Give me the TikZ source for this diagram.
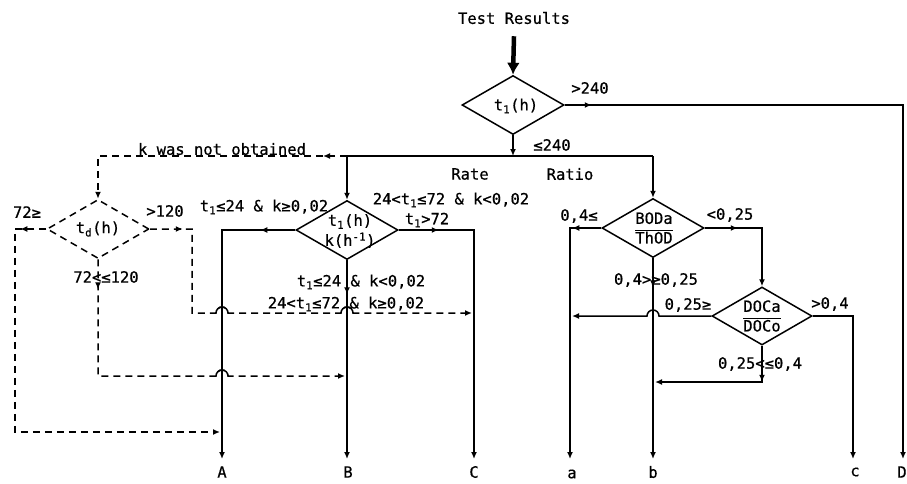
\documentclass[tikz,border=0pt]{standalone}
\usepackage{fontspec}
\newfontfamily\labfont{DejaVu Sans Mono}[FakeBold=0.6]
\usetikzlibrary{arrows.meta,shapes.geometric,decorations.markings}
\tikzset{
  ln/.style={line width=1.5pt},
  dl/.style={line width=1.5pt, dash pattern=on 7pt off 5pt},
  >={Latex[length=7pt,width=6pt]},
  marr/.style={postaction={decorate},decoration={markings,mark=at position #1 with {\arrow{Latex[length=7pt,width=6pt]}}}},
  dia/.style={draw, line width=1.5pt, diamond, inner sep=0pt, minimum width=102pt, minimum height=59pt},
  lab/.style={font=\labfont\fontsize{15.5}{17}\selectfont, inner sep=0pt},
  hop/.style={line width=1.5pt},
}
\begin{document}
\begin{tikzpicture}[x=1pt,y=-1pt]
\useasboundingbox (0,0) rectangle (907,483);
% diamonds
\node[dia] (d1) at (513,105) {};
\node[dia] (d2) at (347,230) {};
\node[dia, dl] (dt) at (98,229) {};
\node[dia] (d3) at (653,228) {};
\node[dia, minimum width=100pt, minimum height=58pt] (d4) at (762,316) {};
% diamond texts
\node[lab] (t1) at (516,106) {t\textsubscript{1}(h)};
\node[lab, font=\labfont\fontsize{15.5}{20}\selectfont, align=center] (t2) at (350,231) {t\textsubscript{1}(h)\\k(h\textsuperscript{-1})};
\node[lab] (tt) at (98,229) {t\textsubscript{d}(h)};
\node[lab] (t3) at (654,228) {$\displaystyle\frac{\mbox{BODa}}{\mbox{ThOD}}$};
\node[lab] (t4) at (762,316) {$\displaystyle\frac{\mbox{DOCa}}{\mbox{DOCo}}$};
% title and labels
\node[lab] (tr) at (514,18) {Test Results};
\node[lab] (l240a) at (590,88) {>240};
\node[lab] (l240b) at (552,145) {≤240};
\node[lab] (lrate) at (470,174) {Rate};
\node[lab] (lratio) at (570,174) {Ratio};
\node[lab] (lk) at (222,149) {k was not obtained};
\node[lab] (l72) at (27,212) {72≥};
\node[lab] (l120) at (165,211) {>120};
\node[lab] (l72120) at (106,277) {72<≤120};
\node[lab] (lb1) at (264,207) {t\textsubscript{1}≤24 \& k≥0,02};
\node[lab] (lb2) at (451,200) {24<t\textsubscript{1}≤72 \& k<0,02};
\node[lab] (lb3) at (427,220) {t\textsubscript{1}>72};
\node[lab] (lb4) at (361,282) {t\textsubscript{1}≤24 \& k<0,02};
\node[lab] (lb5) at (346,304) {24<t\textsubscript{1}≤72 \& k≥0,02};
\node[lab] (lr1) at (579,216) {0,4≤};
\node[lab] (lr2) at (730,215) {<0,25};
\node[lab] (lr3) at (656,280) {0,4>≥0,25};
\node[lab] (lr4) at (688,305) {0,25≥};
\node[lab] (lr5) at (830,304) {>0,4};
\node[lab] (lr6) at (760,364) {0,25<≤0,4};
% outputs
\node[lab] (A) at (222,472) {A};
\node[lab] (B) at (348,472) {B};
\node[lab] (C) at (474,472) {C};
\node[lab] (a) at (572,474) {a};
\node[lab] (b) at (653,472) {b};
\node[lab] (c) at (855,472) {c};
\node[lab] (D) at (902,472) {D};
\coordinate (eA) at (222,459);
\coordinate (eB) at (347,459);
\coordinate (eC) at (474,459);
\coordinate (ea) at (570,459);
\coordinate (eb) at (653,459);
\coordinate (ec) at (853,459);
\coordinate (eD) at (903,459);
\coordinate (jt) at (513,156);
\coordinate (jB) at (347,156);
\coordinate (jR) at (653,156);
% main flow
\draw[line width=4.5pt, -{Latex[length=12pt,width=13pt]}] (tr.south) ++(0,12) -- (d1.north);
\draw[ln,->] (d1.south) -- (jt);
\draw[ln] (jB) -- (jR);
\draw[ln,->] (jB) -- (d2.north);
\draw[ln,->] (jR) -- (d3.north);
\draw[ln,->,marr=27pt] (d1.east) -| (eD);
% k was not obtained
\draw[dl,->,marr=24pt] (jB) -| (dt.north);
% t_d branches
\draw[dl,->,marr=26pt] (dt.west) -- (15,229) |- (220,432);
\draw[dl,->,marr=33pt] (dt.east) -- (192,229) -- (192,313) -- (216,313)
  arc[start angle=180,end angle=0,radius=6pt] -- (341,313)
  arc[start angle=180,end angle=0,radius=6pt] -- (472,313);
\draw[dl,->,marr=30pt] (dt.south) -- (98,376) -- (216,376)
  arc[start angle=180,end angle=0,radius=6pt] -- (345,376);
\draw[hop] (216,313) arc[start angle=180,end angle=0,radius=6pt];
\draw[hop] (341,313) arc[start angle=180,end angle=0,radius=6pt];
\draw[hop] (216,376) arc[start angle=180,end angle=0,radius=6pt];
% rate branches
\draw[ln,->,marr=35pt] (d2.west) -| (eA);
\draw[ln,->,marr=40pt] (d2.east) -| (eC);
\draw[ln,->,marr=34pt] (d2.south) -- (eB);
% ratio branches
\draw[ln,->,marr=29pt] (d3.west) -| (ea);
\draw[ln,->,marr=33pt] (d3.east) -| (d4.north);
\draw[ln,->,marr=29pt] (d3.south) -- (eb);
\draw[ln,->] (d4.west) -- (659,316) arc[start angle=0,end angle=180,radius=6pt] -- (572,316);
\draw[ln,->] (d4.east) -| (ec);
\draw[ln,->,marr=36pt] (d4.south) -- (762,382) -- (655,382);
\end{tikzpicture}
\end{document}
